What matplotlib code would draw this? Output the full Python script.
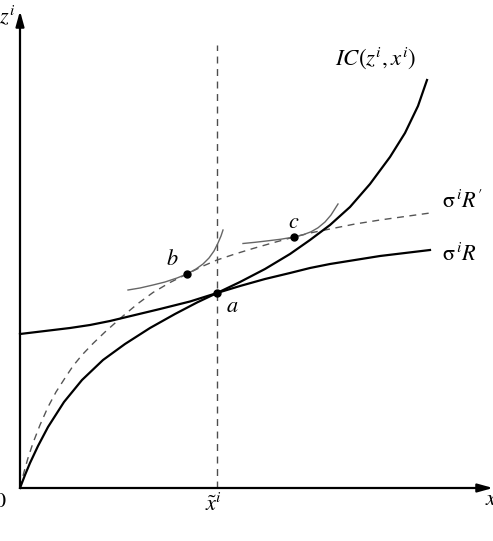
import matplotlib.pyplot as plt

plt.rcParams['mathtext.fontset'] = 'stix'
plt.rcParams['font.family'] = ['STIXGeneral', 'DejaVu Sans']

# curves (x to the right of the origin, z up from the origin)
ic_x = [0, 5, 10, 18, 28, 44, 62, 83, 105, 130, 155, 177, 197,
        220, 245, 270, 290, 310, 330, 350, 370, 385, 398, 407]
ic_z = [0, 13, 25, 42, 61, 86, 108, 128, 144, 160, 174, 185.5, 195,
        206, 219, 234, 248, 263, 281, 304, 331, 355, 382, 408]

r_x = [0, 25, 50, 70, 90, 115, 140, 170, 197, 220, 245, 270, 290,
       310, 335, 360, 385, 410]
r_z = [154, 157, 160, 163, 167, 173, 179, 186.5, 195, 202, 209, 215, 220,
       224, 228, 232, 235, 238]

r2_x = [0, 4, 8, 13, 20, 28, 36, 45, 53, 62, 73, 85, 103, 118, 133, 150,
        167, 182, 197, 215, 233, 254, 274, 290, 310, 335, 360, 385, 410]
r2_z = [0, 16, 30, 45, 63, 81, 96, 110, 122, 133, 144.5, 156, 172, 184.5, 195.5, 205.5,
        214, 221.5, 228, 234, 239.5, 245.5, 251, 255, 259, 264, 268, 271.5, 275]

b_arc_x = [108, 120, 133, 145, 157, 167, 176, 183, 189, 194, 198, 201, 203]
b_arc_z = [198, 200, 203, 206, 210, 214, 219, 224, 230, 237, 245, 252, 258]

c_arc_x = [223, 235, 248, 261, 274, 283, 291, 298, 305, 311, 318]
c_arc_z = [244.5, 245.7, 247.2, 248.8, 251, 253.2, 256.2, 260.2, 266, 273, 284]

x_tilde = 197
points = {'a': (197, 195), 'b': (167, 214), 'c': (274, 251)}

fig = plt.figure(figsize=(4.93, 5.41), dpi=100)
ax = fig.add_axes([0, 0, 1, 1])
ax.set_xlim(-20, 473)
ax.set_ylim(-53, 488)
ax.axis('off')

# axes with arrows
ax.annotate('', xy=(473, 0), xytext=(0, 0),
            arrowprops=dict(arrowstyle='-|>,head_length=0.9,head_width=0.25',
                            color='black', lw=1.6, shrinkA=0, shrinkB=0))
ax.annotate('', xy=(0, 477), xytext=(0, 0),
            arrowprops=dict(arrowstyle='-|>,head_length=0.9,head_width=0.25',
                            color='black', lw=1.6, shrinkA=0, shrinkB=0))

ax.plot([x_tilde, x_tilde], [0, 443], color='#4d4d4d', lw=1.0, linestyle=(0, (5, 4)))

ax.plot(r2_x, r2_z, color='#555555', lw=1.0, linestyle=(0, (5, 4)))
ax.plot(r_x, r_z, color='black', lw=1.6)
ax.plot(ic_x, ic_z, color='black', lw=1.6)
ax.plot(b_arc_x, b_arc_z, color='#666666', lw=1.0)
ax.plot(c_arc_x, c_arc_z, color='#666666', lw=1.0)

for name, (px, pz) in points.items():
    ax.plot(px, pz, 'o', color='black', markersize=5)

fs = 16
ax.text(212, 181, '$a$', fontsize=fs, ha='center', va='center')
ax.text(152, 228, '$b$', fontsize=fs, ha='center', va='center')
ax.text(274, 265, '$c$', fontsize=fs, ha='center', va='center')

ax.text(355, 430, '$IC(z^i,x^i)$', fontsize=16.5, ha='center', va='center')
ax.text(422, 286, "$\\mathrm{\\sigma}^{\\,i}R'$", fontsize=fs, ha='left', va='center')
ax.text(422, 233, '$\\mathrm{\\sigma}^{\\,i}R$', fontsize=fs, ha='left', va='center')

ax.text(-5, 472, '$z^i$', fontsize=fs, ha='right', va='center')
ax.text(-14, -14, '$0$', fontsize=fs, ha='right', va='center')
ax.text(465, -12, '$x^i$', fontsize=fs, ha='left', va='center')
ax.text(x_tilde - 4, -17, '$\\tilde{x}^i$', fontsize=fs, ha='center', va='center')

fig.savefig('out.png', dpi=100)
